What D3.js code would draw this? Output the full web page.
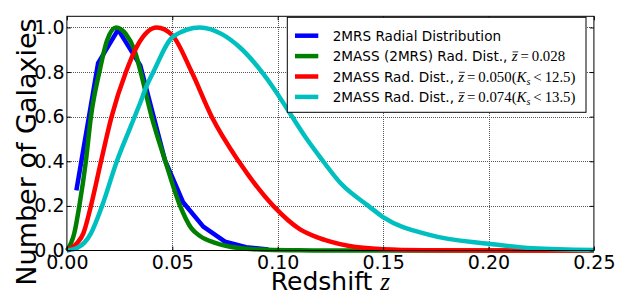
<!DOCTYPE html>
<html>
<head>
<meta charset="utf-8">
<script src="https://cdn.jsdelivr.net/npm/d3@7"></script>
<style>
  html, body { margin: 0; padding: 0; background: #fff; }
  svg { display: block; }
  .tick text { font-family: "DejaVu Sans", sans-serif; }
</style>
</head>
<body>
<div id="chart"></div>
<script>
/*global d3*/

// Radial distributions, [redshift, normalised count]
var blueData = [
  [0.0045, 0.27], [0.0148, 0.84], [0.0243, 0.99], [0.0348, 0.83],
  [0.0465, 0.405], [0.0552, 0.215], [0.0647, 0.107], [0.075, 0.04],
  [0.085, 0.015], [0.0955, 0.004]
];
var greenData = [
  [0, 0], [0.0035, 0.077], [0.0059, 0.2], [0.009, 0.4], [0.0114, 0.6],
  [0.0154, 0.8], [0.019, 0.94], [0.0233, 1.0], [0.028, 0.97], [0.032, 0.9],
  [0.035, 0.8], [0.0402, 0.6], [0.0467, 0.4], [0.0537, 0.2], [0.059, 0.1],
  [0.0631, 0.065], [0.07, 0.035], [0.0758, 0.02], [0.085, 0.008],
  [0.095, 0.003], [0.11, 0.0008], [0.13, 0], [0.25, 0]
];
var redData = [
  [0, 0], [0.005, 0.035], [0.0078, 0.077], [0.0114, 0.2], [0.0162, 0.4],
  [0.0212, 0.6], [0.028, 0.8], [0.0335, 0.92], [0.0426, 1.0], [0.05, 0.965],
  [0.0592, 0.8], [0.0687, 0.6], [0.0815, 0.4], [0.0979, 0.2], [0.1106, 0.095],
  [0.1185, 0.06], [0.125, 0.04], [0.134, 0.02], [0.15, 0.006], [0.17, 0.0015],
  [0.2, 0.0002], [0.25, 0]
];
var cyanData = [
  [0, 0], [0.005, 0.012], [0.0114, 0.077], [0.0167, 0.2], [0.0237, 0.4],
  [0.03, 0.55], [0.0347, 0.66], [0.0375, 0.73], [0.041, 0.8], [0.0505, 0.96],
  [0.0631, 1.0], [0.0735, 0.97], [0.0821, 0.91], [0.0979, 0.73], [0.1055, 0.62],
  [0.1138, 0.5], [0.12, 0.42], [0.13, 0.3], [0.143, 0.2], [0.15, 0.15],
  [0.172, 0.07], [0.2, 0.03], [0.221, 0.01], [0.25, 0.002]
];

var seriesColors = ["#0000ff", "#008000", "#ff0000", "#00bfbf"];
var legendMain = [
  "2MRS Radial Distribution",
  "2MASS (2MRS) Rad. Dist., ",
  "2MASS Rad. Dist., ",
  "2MASS Rad. Dist., "
];
var legendZbar = [null, "0.028", "0.050", "0.074"];
var legendKs = [null, null, "12.5", "13.5"];

var xTicks = [0, 0.05, 0.1, 0.15, 0.2, 0.25];
var yTicks = [0, 0.2, 0.4, 0.6, 0.8, 1.0];

(function () {
  "use strict";

  var width = 618,
    height = 295,
    plot = { left: 66.9, right: 593.9, top: 16.3, bottom: 250.5 },
    series = [blueData, greenData, redData, cyanData],
    curves = [d3.curveLinear, d3.curveMonotoneX, d3.curveMonotoneX, d3.curveMonotoneX],
    mathFont = "Liberation Serif, serif",
    mathSize = 14.8,
    thin = "\u2009",
    svg, x, y, gridG, legend, row, txt, colDots, rowDots;

  svg = d3.select("#chart").append("svg")
    .attr("width", width)
    .attr("height", height);

  x = d3.scaleLinear().domain([0, 0.25]).range([plot.left, plot.right]);
  y = d3.scaleLinear().domain([0, 1.05]).range([plot.bottom, plot.top]);

  // dotted grid, one pixel per dot so it stays crisp
  gridG = svg.append("g").attr("class", "grid").attr("fill", "#555");
  colDots = d3.range(Math.ceil(plot.top), Math.floor(plot.bottom), 2);
  rowDots = d3.range(Math.ceil(plot.left), Math.floor(plot.right), 2);
  xTicks.slice(1, -1).forEach(function (d) {
    var px = Math.round(x(d));
    gridG.selectAll(null).data(colDots).enter().append("rect")
      .attr("x", px).attr("y", function (v) { return v; })
      .attr("width", 1).attr("height", 1);
  });
  yTicks.slice(1).forEach(function (d) {
    var py = Math.round(y(d));
    gridG.selectAll(null).data(rowDots).enter().append("rect")
      .attr("x", function (v) { return v; }).attr("y", py)
      .attr("width", 1).attr("height", 1);
  });

  // curves
  series.forEach(function (d, i) {
    svg.append("path")
      .datum(d)
      .attr("fill", "none")
      .attr("stroke", seriesColors[i])
      .attr("stroke-width", 4.5)
      .attr("stroke-linejoin", "round")
      .attr("d", d3.line()
        .curve(curves[i])
        .x(function (p) { return x(p[0]); })
        .y(function (p) { return y(p[1]); }));
  });

  // axes with inward ticks
  svg.append("g")
    .attr("transform", "translate(0," + plot.bottom + ")")
    .call(d3.axisBottom(x).tickValues(xTicks).tickFormat(d3.format(".2f"))
      .tickSizeInner(-4).tickSizeOuter(0).tickPadding(5.5))
    .call(function (g) {
      g.select(".domain").remove();
      g.selectAll("text").attr("font-size", 19).attr("fill", "#000");
    });
  svg.append("g")
    .attr("transform", "translate(" + plot.left + ",0)")
    .call(d3.axisLeft(y).tickValues(yTicks).tickFormat(d3.format(".1f"))
      .tickSizeInner(-4).tickSizeOuter(0).tickPadding(2.4))
    .call(function (g) {
      g.select(".domain").remove();
      g.selectAll("text").attr("font-size", 19).attr("fill", "#000");
    });
  svg.append("g")
    .attr("transform", "translate(0," + plot.top + ")")
    .call(d3.axisTop(x).tickValues(xTicks).tickFormat(function () { return ""; })
      .tickSizeInner(-4).tickSizeOuter(0))
    .call(function (g) { g.select(".domain").remove(); });
  svg.append("g")
    .attr("transform", "translate(" + plot.right + ",0)")
    .call(d3.axisRight(y).tickValues(yTicks).tickFormat(function () { return ""; })
      .tickSizeInner(-4).tickSizeOuter(0))
    .call(function (g) { g.select(".domain").remove(); });

  // frame
  svg.append("rect")
    .attr("x", plot.left).attr("y", plot.top)
    .attr("width", plot.right - plot.left)
    .attr("height", plot.bottom - plot.top)
    .attr("fill", "none")
    .attr("stroke", "#000")
    .attr("stroke-width", 1);

  // axis labels
  svg.append("text")
    .attr("x", (plot.left + plot.right) / 2)
    .attr("y", 290)
    .attr("text-anchor", "middle")
    .attr("font-family", "DejaVu Sans, sans-serif")
    .attr("font-size", 25)
    .text("Redshift ")
    .append("tspan")
      .attr("font-family", mathFont)
      .attr("font-style", "italic")
      .text("z");

  svg.append("text")
    .attr("transform", "translate(36,152) rotate(-90)")
    .attr("text-anchor", "middle")
    .attr("font-family", "DejaVu Sans, sans-serif")
    .attr("font-size", 27)
    .text("Number of Galaxies");

  // legend
  legend = svg.append("g");
  legend.append("rect")
    .attr("x", 287.3).attr("y", 17.3)
    .attr("width", 298.7).attr("height", 95)
    .attr("fill", "#fff")
    .attr("stroke", "#000")
    .attr("stroke-width", 1);

  legendMain.forEach(function (label, i) {
    var cy = 35.7 + i * 20.4,
      base = cy + 5,
      zx, zw;
    row = legend.append("g");
    row.append("line")
      .attr("x1", 295).attr("x2", 318.3)
      .attr("y1", cy).attr("y2", cy)
      .attr("stroke", seriesColors[i])
      .attr("stroke-width", 4.5);
    txt = row.append("text")
      .attr("x", 332.7)
      .attr("y", base)
      .attr("font-family", "DejaVu Sans, sans-serif")
      .attr("font-size", 13.6)
      .attr("fill", "#000");
    txt.append("tspan").text(label);
    if (legendZbar[i]) {
      txt.append("tspan")
        .attr("font-family", mathFont)
        .attr("font-style", "italic")
        .attr("font-size", mathSize)
        .text("z");
      txt.append("tspan")
        .attr("font-family", mathFont)
        .attr("font-size", mathSize)
        .text(thin + "=" + thin + legendZbar[i]);
      // bar over the z
      zx = txt.node().getStartPositionOfChar(label.length).x;
      zw = txt.node().getSubStringLength(label.length, 1);
      row.append("line")
        .attr("x1", zx + 0.8).attr("x2", zx + zw + 0.8)
        .attr("y1", base - 9.2).attr("y2", base - 9.2)
        .attr("stroke", "#000")
        .attr("stroke-width", 0.8);
    }
    if (legendKs[i]) {
      txt.append("tspan")
        .attr("font-family", mathFont)
        .attr("font-size", mathSize)
        .text("(");
      txt.append("tspan")
        .attr("font-family", mathFont)
        .attr("font-style", "italic")
        .attr("font-size", mathSize)
        .text("K");
      txt.append("tspan")
        .attr("font-family", mathFont)
        .attr("font-style", "italic")
        .attr("font-size", 10)
        .attr("dy", 3)
        .text("s");
      txt.append("tspan")
        .attr("font-family", mathFont)
        .attr("font-size", mathSize)
        .attr("dy", -3)
        .text(thin + "<" + thin + legendKs[i] + ")");
    }
  });
}());
</script>
</body>
</html>
